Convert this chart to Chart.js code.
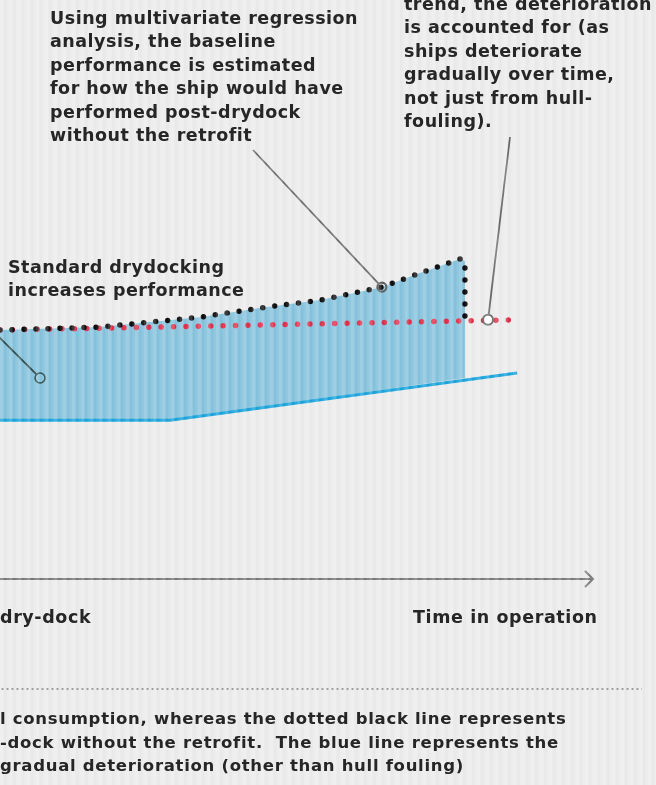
<!DOCTYPE html>
<html>
<head>
<meta charset="utf-8">
<script src="https://cdn.jsdelivr.net/npm/chart.js@4.4.1/dist/chart.umd.min.js"></script>
<style>
	html, body { margin: 0; padding: 0; }
	body {
		width: 656px;
		height: 785px;
		overflow: hidden;
		position: relative;
		background: #ececec;
		font-family: 'DejaVu Sans', sans-serif;
		color: #262626;
	}
	#chart { position: absolute; left: 0; top: 0; }
	.grain {
		position: absolute;
		left: 0; top: 0; width: 656px; height: 785px;
		pointer-events: none;
		background: repeating-linear-gradient(90deg,
			rgba(255,255,255,0.18) 0px, rgba(255,255,255,0.18) 3px,
			rgba(0,0,0,0.012) 4px, rgba(0,0,0,0.012) 6px,
			rgba(255,255,255,0.08) 7px, rgba(255,255,255,0.08) 9px);
	}
	.note {
		position: absolute;
		font-weight: 700;
		font-size: 17.5px;
		letter-spacing: 0.5px;
		line-height: 23.4px;
		white-space: nowrap;
	}
	.axis-label {
		position: absolute;
		font-weight: 700;
		font-size: 17.5px;
		letter-spacing: 0.6px;
		line-height: 22px;
		white-space: nowrap;
	}
	.rule {
		position: absolute;
		left: 0; top: 688px;
		width: 642px; height: 2px;
		background-image: radial-gradient(circle, #9c9c9c 0.9px, transparent 1.3px);
		background-size: 5px 2px;
	}
	.caption {
		position: absolute;
		left: 0; top: 707px;
		font-weight: 700;
		font-size: 16.5px;
		letter-spacing: 0.7px;
		line-height: 23.5px;
		white-space: nowrap;
	}
</style>
</head>
<body>
<canvas id="chart" width="656" height="785"></canvas>
<div class="grain"></div>

<div class="note" style="left:50px; top:7px;">Using multivariate regression<br>analysis, the baseline<br>performance is estimated<br>for how the ship would have<br>performed post-drydock<br>without the retrofit</div>
<div class="note" style="left:404px; top:-7px;">trend, the deterioration<br>is accounted for (as<br>ships deteriorate<br>gradually over time,<br>not just from hull-<br>fouling).</div>
<div class="note" style="left:8px; top:256px;">Standard drydocking<br>increases performance</div>

<div class="axis-label" style="left:0px; top:606px;">dry-dock</div>
<div class="axis-label" style="left:413px; top:606px;">Time in operation</div>

<div class="rule"></div>
<div class="caption">l consumption, whereas the dotted black line represents<br>-dock without the retrofit.&nbsp; The blue line represents the<br>gradual deterioration (other than hull fouling)</div>

<script>
// baseline estimate without the retrofit (black dots)
const baselineTime = [0, 16.9, 25.3, 33.7, 43.8, 54.0, 64.4, 70.8, 77.6, 78.4, 78.4];
const baselineFuel = [65.5, 66.3, 67.6, 68.9, 71.3, 73.4, 76.8, 80.5, 84.2, 83.6, 68.4];

// measured performance after the retrofit (red dots)
const actualTime = [0, 87.5];
const actualFuel = [65.5, 68.2];

// gradual deterioration trend (blue line)
const trendTime = [0, 28.7, 87.2];
const trendFuel = [41.8, 41.8, 54.2];

// lower edge of the shaded savings area
const floorTime = [0, 28.7, 78.4];
const floorFuel = [41.8, 41.8, 52.9];

const toPoints = (xs, ys) => xs.map((x, i) => ({ x: x, y: ys[i] }));

// circles with leader lines pointing at the notes
const callouts = [
	{ at: [6.75, 52.9], from: [-3, 335], line: '#2f4b4b', ring: '#2f4b4b', fill: null, r: 5, w: 1.6 },
	{ at: [64.4, 76.8], from: [253, 150], line: '#6a6a6a', ring: '#5a5a5a', fill: null, r: 4.5, w: 2.2 },
	{ at: [82.3, 68.2], from: [510, 137], line: '#6a6a6a', ring: '#707070', fill: '#ffffff', r: 5, w: 2 },
];

const axisArrow = {
	id: 'axisArrow',
	afterDatasetsDraw(chart) {
		const ctx = chart.ctx;
		const area = chart.chartArea;
		const y0 = chart.scales.y.getPixelForValue(0);
		ctx.save();
		ctx.strokeStyle = '#7a7a7a';
		ctx.lineWidth = 2;
		ctx.beginPath();
		ctx.moveTo(area.left - 5, y0);
		ctx.lineTo(area.right - 1, y0);
		ctx.stroke();
		ctx.beginPath();
		ctx.moveTo(area.right - 8, y0 - 8);
		ctx.lineTo(area.right, y0);
		ctx.lineTo(area.right - 8, y0 + 8);
		ctx.stroke();
		ctx.restore();
	},
};

const calloutPlugin = {
	id: 'callouts',
	afterDatasetsDraw(chart) {
		const ctx = chart.ctx;
		const sx = chart.scales.x;
		const sy = chart.scales.y;
		ctx.save();
		callouts.forEach(c => {
			const cx = sx.getPixelForValue(c.at[0]);
			const cy = sy.getPixelForValue(c.at[1]);
			const dx = c.from[0] - cx;
			const dy = c.from[1] - cy;
			const len = Math.sqrt(dx * dx + dy * dy);
			ctx.strokeStyle = c.line;
			ctx.lineWidth = 1.8;
			ctx.beginPath();
			ctx.moveTo(c.from[0], c.from[1]);
			ctx.lineTo(cx + dx / len * c.r, cy + dy / len * c.r);
			ctx.stroke();

			ctx.beginPath();
			ctx.arc(cx, cy, c.r, 0, Math.PI * 2);
			if (c.fill) {
				ctx.fillStyle = c.fill;
				ctx.fill();
			}
			ctx.strokeStyle = c.ring;
			ctx.lineWidth = c.w;
			ctx.stroke();
		});
		ctx.restore();
	},
};

new Chart(document.getElementById('chart'), {
	type: 'line',
	data: {
		datasets: [
			{
				label: 'Baseline',
				data: toPoints(baselineTime, baselineFuel),
				borderColor: '#0e0e0e',
				borderWidth: 5.5,
				borderDash: [0, 12],
				borderCapStyle: 'round',
				backgroundColor: '#88c4de',
				fill: { target: 3 },
				pointRadius: 0,
			},
			{
				label: 'Actual',
				data: toPoints(actualTime, actualFuel),
				borderColor: '#e0304b',
				borderWidth: 5.5,
				borderDash: [0, 12.4],
				borderCapStyle: 'round',
				fill: false,
				pointRadius: 0,
			},
			{
				label: 'Trend',
				data: toPoints(trendTime, trendFuel),
				borderColor: '#1aa3dc',
				borderWidth: 3,
				fill: false,
				pointRadius: 0,
			},
			{
				label: 'Floor',
				data: toPoints(floorTime, floorFuel),
				borderColor: 'rgba(0,0,0,0)',
				borderWidth: 0,
				fill: false,
				pointRadius: 0,
			},
		],
	},
	plugins: [axisArrow, calloutPlugin],
	options: {
		responsive: false,
		animation: false,
		devicePixelRatio: 1,
		layout: {
			padding: { left: 0, right: 63, top: 199, bottom: 206 },
		},
		plugins: {
			legend: { display: false },
			tooltip: { enabled: false },
			filler: { drawTime: 'beforeDatasetsDraw' },
		},
		scales: {
			x: { type: 'linear', min: 0, max: 100, display: false },
			y: { type: 'linear', min: 0, max: 100, display: false },
		},
	},
});
</script>
</body>
</html>
